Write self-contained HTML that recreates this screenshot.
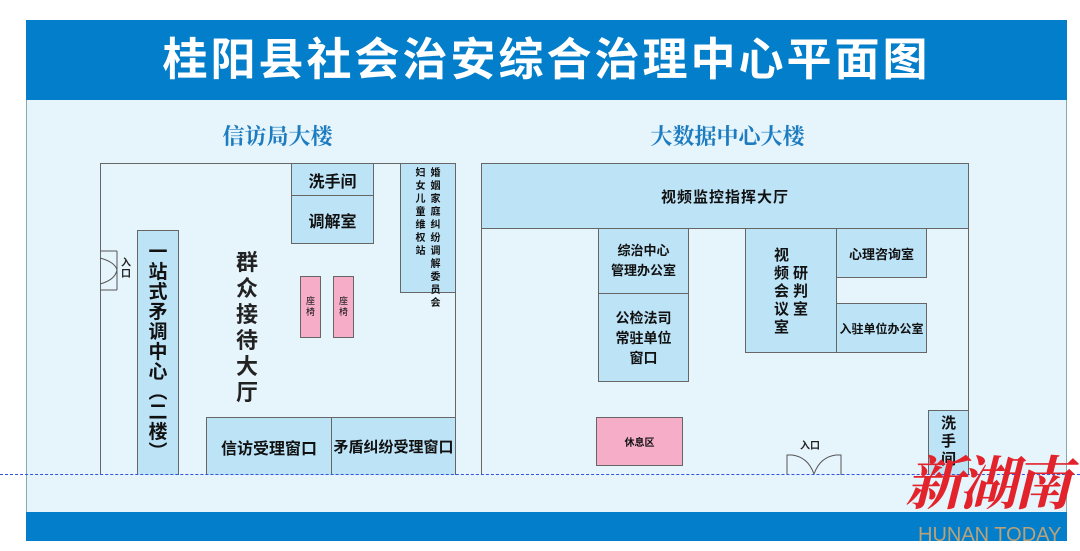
<!DOCTYPE html>
<html><head><meta charset="utf-8"><style>
*{margin:0;padding:0;box-sizing:border-box}
body{width:1080px;height:551px;background:#fff;position:relative;overflow:hidden;font-family:"Liberation Sans","Noto Sans CJK SC",sans-serif;}
.a{position:absolute}
.b{position:absolute;background:#bde3f7;border:1px solid #666;display:flex;align-items:center;justify-content:center;text-align:center;font-weight:bold;color:#111;}
.p{background:#f6aec8}
.col{display:inline-block;width:1em;word-break:break-all;vertical-align:top;}
</style></head><body>
<div class="a" style="left:26px;top:20px;width:1041px;height:521px;background:#e6f4fc;border:1px solid #8aa"></div>
<div class="a" style="left:26px;top:20px;width:1041px;height:80px;background:#027ecb;color:#fff;font-size:45px;font-weight:bold;text-align:center;line-height:80px;letter-spacing:3px">桂阳县社会治安综合治理中心平面图</div>
<div class="a" style="left:26px;top:512px;width:1041px;height:29px;background:#027ecb"></div>
<div class="a" style="left:0;top:120px;width:555px;text-align:center;font-family:'Liberation Serif','Noto Serif CJK SC',serif;font-size:22px;font-weight:bold;color:#1d7cc0">信访局大楼</div>
<div class="a" style="left:450px;top:120px;width:555px;text-align:center;font-family:'Liberation Serif','Noto Serif CJK SC',serif;font-size:22px;font-weight:bold;color:#1d7cc0">大数据中心大楼</div>

<!-- left building -->
<div class="a" style="left:100px;top:163px;width:356px;height:312px;border:1px solid #666;border-bottom:none"></div>
<div class="b" style="left:291px;top:163px;width:83px;height:33px;font-size:16px">洗手间</div>
<div class="b" style="left:291px;top:195px;width:83px;height:49px;font-size:16px">调解室</div>
<div class="b" style="left:400px;top:163px;width:56px;height:130px;font-size:10px;align-items:flex-start;padding-top:3px;line-height:13px"><span class="col">妇女儿童维权站</span><span style="display:inline-block;width:5px"></span><span class="col">婚姻家庭纠纷调解委员会</span></div>
<div class="b" style="left:137px;top:230px;width:42px;height:245px;font-size:19px;border-bottom:none;line-height:20px;align-items:flex-start;padding-top:12px"><span style="width:20px">一<br>站<br>式<br>矛<br>调<br>中<br>心<br>︵<br>二<br>楼<br>︶</span></div>
<div class="a" style="left:236px;top:250px;font-size:22px;font-weight:bold;color:#222;line-height:26px;width:24px">群众接待大厅</div>
<div class="b p" style="left:300px;top:276px;width:21px;height:62px;font-size:9px;font-weight:normal;line-height:11px"><span class="col">座椅</span></div>
<div class="b p" style="left:333px;top:276px;width:21px;height:62px;font-size:9px;font-weight:normal;line-height:11px"><span class="col">座椅</span></div>
<div class="b" style="left:206px;top:417px;width:126px;height:58px;font-size:16px;border-bottom:none">信访受理窗口</div>
<div class="b" style="left:331px;top:417px;width:125px;height:58px;font-size:15px;border-bottom:none">矛盾纠纷受理窗口</div>
<svg class="a" style="left:99px;top:250px" width="22" height="42"><path d="M1 1H18 M1 40H18 M18 1V40" stroke="#555" fill="none" stroke-width="1"/><path d="M1 8 Q16 12 18 20 M1 34 Q16 30 18 20" stroke="#555" fill="none"/></svg>
<div class="a" style="left:121px;top:258px;font-size:10px;font-weight:bold;color:#222;width:11px;line-height:11px">入口</div>

<!-- right building -->
<div class="a" style="left:481px;top:163px;width:488px;height:312px;border:1px solid #666;border-bottom:none"></div>
<div class="b" style="left:481px;top:163px;width:488px;height:66px;font-size:15px;letter-spacing:1px">视频监控指挥大厅</div>
<div class="b" style="left:598px;top:228px;width:91px;height:66px;font-size:13px;line-height:20px">综治中心<br>管理办公室</div>
<div class="b" style="left:598px;top:293px;width:91px;height:89px;font-size:14px;line-height:20px">公检法司<br>常驻单位<br>窗口</div>
<div class="b" style="left:745px;top:228px;width:92px;height:125px;font-size:15px;align-items:flex-start;padding-top:18px;line-height:18px"><span class="col">视频会议室</span><span style="display:inline-block;width:4px"></span><span class="col" style="margin-top:18px">研判室</span></div>
<div class="b" style="left:836px;top:228px;width:91px;height:50px;font-size:13px">心理咨询室</div>
<div class="b" style="left:836px;top:303px;width:91px;height:50px;font-size:12px">入驻单位办公室</div>
<div class="b p" style="left:596px;top:417px;width:87px;height:49px;font-size:10px">休息区</div>
<div class="b" style="left:928px;top:410px;width:41px;height:65px;font-size:15px;align-items:flex-start;padding-top:4px;border-bottom:none"><span style="width:18px;line-height:18px">洗手间</span></div>
<div class="a" style="left:800px;top:437px;font-size:10px;font-weight:bold;color:#222">入口</div>
<svg class="a" style="left:786px;top:454px" width="56" height="21"><path d="M1 21V1H6 M55 21V1H50" stroke="#555" fill="none"/><path d="M6 1 Q22 3 28 20 M50 1 Q34 3 28 20" stroke="#555" fill="none"/></svg>

<div class="a" style="left:0;top:474px;width:1080px;border-top:1px dashed #3355dd"></div>

<div class="a" style="left:905px;top:437px;font-family:'Liberation Serif','Noto Serif CJK SC',serif;font-size:58px;font-weight:bold;font-style:italic;color:#e3232b;letter-spacing:-4px">新湖南</div>
<div class="a" style="left:918px;top:524px;font-size:20px;color:#b9a27a;">HUNAN TODAY</div>
</body></html>
